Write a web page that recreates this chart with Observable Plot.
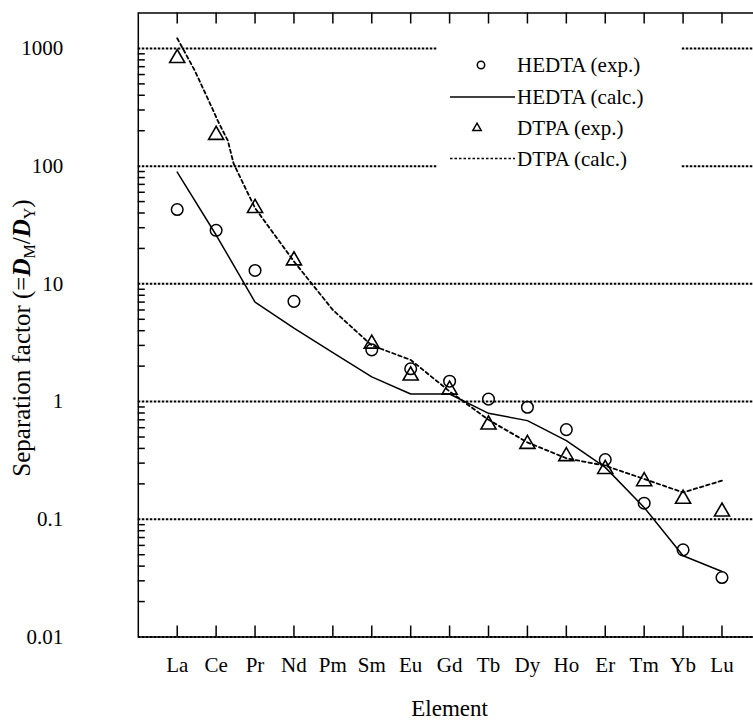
<!DOCTYPE html>
<html><head><meta charset="utf-8">
<script src="https://cdn.jsdelivr.net/npm/d3@7"></script>
<script src="https://cdn.jsdelivr.net/npm/@observablehq/plot@0.6"></script>
<style>body{margin:0;background:#fff;overflow:hidden} svg{display:block}</style>
</head><body><div id="chart"></div>
<script>
// ---- data ----
const elements = ["La","Ce","Pr","Nd","Pm","Sm","Eu","Gd","Tb","Dy","Ho","Er","Tm","Yb","Lu"];
const hedtaExp  = [42.8, 28.5, 13.0, 7.1, null, 2.75, 1.90, 1.49, 1.05, 0.895, 0.578, 0.321, 0.137, 0.055, 0.032];
const dtpaExp   = [826, 184, 44, 15.8, null, 3.1, 1.66, 1.26, 0.637, 0.436, 0.343, 0.267, 0.21, 0.149, 0.116];
const hedtaCalc = [89, 26, 7.0, 4.2, 2.6, 1.62, 1.16, 1.16, 0.795, 0.689, 0.466, 0.276, 0.126, 0.049, 0.036];
const dtpaCalcPos = [1, 1.45, 1.9, 2.05, 2.3, 2.45, 3, 4, 5, 6, 7, 8, 9, 10, 11, 12, 13, 14, 15];
const dtpaCalcVal = [1220, 650, 310, 240, 165, 105, 44, 15.5, 6.0, 3.0, 2.26, 1.22, 0.70, 0.45, 0.33, 0.285, 0.22, 0.169, 0.213];
const yTicks = [0.01, 0.1, 1, 10, 100, 1000];
const yTickLabels = ["0.01", "0.1", "1", "10", "100", "1000"];
const legendLabels = ["HEDTA (exp.)", "HEDTA (calc.)", "DTPA (exp.)", "DTPA (calc.)"];

// ---- layout ----
const W = 753, H = 720;
const xLeft = 137.8, xRight = 760.4, yTop = 12.5, yBottom = 636.5;
const yDomain = [0.01, 2000];
const pxPerDecade = (yBottom - yTop) / Math.log10(yDomain[1] / yDomain[0]);
const pxPerUnit = (xRight - xLeft) / 16;
const font = "'Liberation Serif','Times New Roman',Times,serif";

const pos = elements.map((d, i) => i + 1);
const hedtaExpData = elements.map((e, i) => ({x: i + 1, y: hedtaExp[i]})).filter(d => d.y != null);
const dtpaExpData = elements.map((e, i) => ({x: i + 1, y: dtpaExp[i]})).filter(d => d.y != null);
const hedtaCalcData = elements.map((e, i) => ({x: i + 1, y: hedtaCalc[i]}));
const dtpaCalcData = dtpaCalcPos.map((p, i) => ({x: p, y: dtpaCalcVal[i]}));
const minor = [];
for (const d of yTicks) for (let k = 2; k <= 9; k++) { const v = d * k; if (v < yDomain[1]) minor.push(v); }

const tickOff = (v, px) => v * Math.pow(10, px / pxPerDecade);

const chart = Plot.plot({
  width: W, height: H,
  marginLeft: xLeft, marginRight: 0, marginTop: yTop, marginBottom: H - yBottom,
  style: {fontFamily: font, background: "#fff", color: "black"},
  x: {domain: [0, 16], range: [xLeft, xRight], axis: null},
  y: {type: "log", domain: yDomain, axis: null},
  marks: [
    Plot.ruleY(yTicks, {stroke: "black", strokeWidth: 2, strokeDasharray: "2.5,1.5"}),
    // frame
    Plot.ruleX([0], {stroke: "black", strokeWidth: 1.5}),
    Plot.ruleY([yDomain[1]], {stroke: "black", strokeWidth: 1.5}),
    Plot.ruleY([yDomain[0]], {stroke: "black", strokeWidth: 1.5}),
    // ticks
    Plot.ruleX(pos, {x: d => d, y1: yDomain[1], y2: tickOff(yDomain[1], -11), stroke: "black", strokeWidth: 1.5}),
    Plot.ruleX(pos, {x: d => d, y1: yDomain[0], y2: tickOff(yDomain[0], 11), stroke: "black", strokeWidth: 1.5}),
    Plot.ruleY(minor, {y: d => d, x1: 0, x2: 7 / pxPerUnit, stroke: "black", strokeWidth: 1.5}),
    // tick labels
    Plot.text(elements, {x: (d, i) => i + 1, y: () => yDomain[0], dy: 28, text: d => d, fontSize: 21, fill: "black"}),
    Plot.text(yTicks, {x: () => 0, y: d => d, dx: -75, text: (d, i) => yTickLabels[i], textAnchor: "end", fontSize: 21, fill: "black"}),
    Plot.text(["Element"], {x: () => 8, y: () => yDomain[0], dy: 72, text: d => d, fontSize: 23, fill: "black"}),
    // data
    Plot.line(dtpaCalcData, {x: "x", y: "y", stroke: "black", strokeWidth: 1.8, strokeDasharray: "3.5,3"}),
    Plot.line(hedtaCalcData, {x: "x", y: "y", stroke: "black", strokeWidth: 1.5}),
    Plot.dot(dtpaExpData, {x: "x", y: "y", symbol: "triangle", r: 5.6, stroke: "black", fill: "none", strokeWidth: 1.6}),
    Plot.dot(hedtaExpData, {x: "x", y: "y", r: 5.8, stroke: "black", fill: "none", strokeWidth: 1.5})
  ]
});
document.getElementById("chart").appendChild(chart);

// y-axis title with subscripts
const svg = d3.select(chart);
const yt = svg.append("text")
  .attr("transform", "translate(30,338) rotate(-90)")
  .attr("text-anchor", "middle")
  .attr("font-family", font).attr("font-size", 25).attr("fill", "black");
yt.append("tspan").text("Separation factor (=");
yt.append("tspan").attr("font-weight", "bold").attr("font-style", "italic").text("D");
yt.append("tspan").attr("font-size", 16).attr("dy", 5).text("M");
yt.append("tspan").attr("dy", -5).text("/");
yt.append("tspan").attr("font-weight", "bold").attr("font-style", "italic").text("D");
yt.append("tspan").attr("font-size", 16).attr("dy", 5).text("Y");
yt.append("tspan").attr("dy", -5).text(")");

// legend
const lg = svg.append("g").attr("font-family", font).attr("font-size", 21).attr("fill", "black").attr("text-anchor", "start");
lg.append("rect").attr("x", 437).attr("y", 36).attr("width", 244).attr("height", 138).attr("fill", "white");
const rows = [65, 97, 128, 158.5];
lg.append("circle").attr("cx", 481).attr("cy", rows[0]).attr("r", 3.7).attr("fill", "none").attr("stroke", "black").attr("stroke-width", 1.5);
lg.append("line").attr("x1", 450).attr("x2", 515).attr("y1", rows[1]).attr("y2", rows[1]).attr("stroke", "black").attr("stroke-width", 1.5);
lg.append("path").attr("d", d3.symbol(d3.symbolTriangle, 30)()).attr("transform", `translate(477,${rows[2]})`).attr("fill", "none").attr("stroke", "black").attr("stroke-width", 1.5);
lg.append("line").attr("x1", 450).attr("x2", 515).attr("y1", rows[3]).attr("y2", rows[3]).attr("stroke", "black").attr("stroke-width", 1.5).attr("stroke-dasharray", "2.5,2");
legendLabels.forEach((t, i) => {
  lg.append("text").attr("x", 517).attr("y", rows[i]).attr("dy", "0.34em").attr("text-anchor", "start").text(t);
});
</script>
</body></html>
